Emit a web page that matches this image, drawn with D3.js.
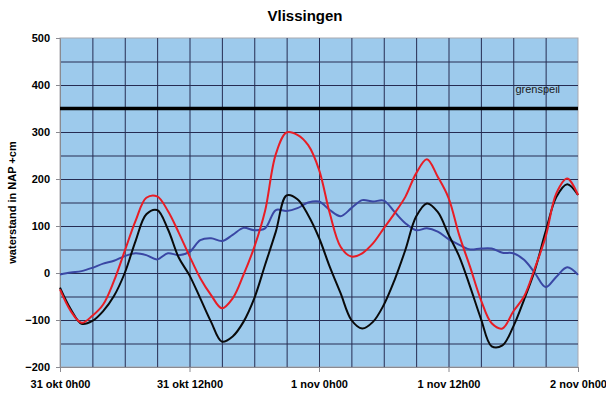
<!DOCTYPE html>
<html>
<head>
<meta charset="utf-8">
<script src="https://cdn.jsdelivr.net/npm/d3@7"></script>
<style>
  body { margin: 0; background: #fff; }
  svg text { font-family: Arial, "Liberation Sans", sans-serif; }
</style>
</head>
<body>
<script>
var w = 606;
var h = 396;

// hours since 31 okt 0h00, one reading per hour
var hours = d3.range(0, 49);

// astronomisch getij (black)
var astro = [-31,-77,-108,-102,-81,-49,0,68,125,134,93,33,-5,-54,-104,-146,-135,-104,-54,17,
             88,165,157,123,75,13,-43,-100,-118,-104,-68,-15,49,120,148,130,82,35,-29,-97,
             -156,-154,-114,-57,6,88,162,189,166];
// gemeten waterstand (red)
var measured = [-35,-81,-106,-91,-67,-17,47,111,160,163,132,86,36,-11,-47,-75,-54,-4,55,132,
                253,299,294,272,220,127,56,35,42,63,95,127,162,212,242,205,160,80,13,-57,
                -107,-118,-82,-50,10,77,170,201,166];
// opzet (blue)
var surge = [-3,1,4,11,20,26,36,42,38,29,42,38,45,70,74,68,81,96,91,95,
             134,132,138,150,152,134,121,138,155,152,154,130,106,91,95,88,72,60,50,52,
             52,43,42,28,0,-30,-8,12,-4];

var grenspeil = 350;
var yTicks = [-200,-100,0,100,200,300,400,500];
var xTicks = [0,12,24,36,48];
var xLabels = ["31 okt 0h00","31 okt 12h00","1 nov 0h00","1 nov 12h00","2 nov 0h00"];

var plotLeft = 60, plotRight = 578, plotTop = 38, plotBottom = 367;

var xScale = d3.scaleLinear().domain([0,48]).range([plotLeft,plotRight]);
var yScale = d3.scaleLinear().domain([-200,500]).range([plotBottom,plotTop]);

var svg = d3.select("body").append("svg")
    .attr("width", w)
    .attr("height", h);

// plot area
svg.append("rect")
    .attr("x", plotLeft).attr("y", plotTop)
    .attr("width", plotRight-plotLeft).attr("height", plotBottom-plotTop)
    .attr("fill", "#9dcaec")
    .attr("stroke", "#a9a9b0");

// grid lines
svg.append("g")
    .attr("transform", "translate(" + plotLeft + ",0)")
    .call(d3.axisLeft(yScale).tickValues(d3.range(-150, 500, 50)).tickSize(-(plotRight-plotLeft)).tickFormat(""))
    .call(function(g){ g.select(".domain").remove(); })
    .selectAll("line").attr("stroke", "#262c52").attr("stroke-width", 1);

svg.append("g")
    .attr("transform", "translate(0," + plotBottom + ")")
    .call(d3.axisBottom(xScale).tickValues(d3.range(3, 48, 3)).tickSize(-(plotBottom-plotTop)).tickFormat(""))
    .call(function(g){ g.select(".domain").remove(); })
    .selectAll("line").attr("stroke", "#262c52").attr("stroke-width", 1);

// axes
var yAxis = svg.append("g")
    .attr("transform", "translate(" + plotLeft + ",0)")
    .call(d3.axisLeft(yScale).tickValues(yTicks).tickSize(4).tickPadding(6));
yAxis.select(".domain").attr("stroke", "#8a8a90");
yAxis.selectAll("line").attr("stroke", "#8a8a90");
yAxis.selectAll("text").attr("font-size", "11px").attr("font-weight", "bold").attr("fill", "#000");

var xAxis = svg.append("g")
    .attr("transform", "translate(0," + plotBottom + ")")
    .call(d3.axisBottom(xScale).tickValues(xTicks).tickSize(5).tickPadding(8)
        .tickFormat(function(d, i){ return xLabels[i]; }));
xAxis.select(".domain").attr("stroke", "#8a8a90");
xAxis.selectAll("line").attr("stroke", "#8a8a90");
xAxis.selectAll("text").attr("font-size", "11px").attr("font-weight", "bold").attr("fill", "#000");

// grenspeil
svg.append("line")
    .attr("x1", plotLeft).attr("x2", plotRight)
    .attr("y1", yScale(grenspeil)).attr("y2", yScale(grenspeil))
    .attr("stroke", "#000").attr("stroke-width", 3.5);
svg.append("text")
    .attr("x", xScale(42.2)).attr("y", yScale(grenspeil) - 16)
    .attr("font-size", "11px").attr("fill", "#1a1a1a")
    .text("grenspeil");

// series
var line = function(vals){
    return d3.line()
        .x(function(d, i){ return xScale(hours[i]); })
        .y(function(d){ return yScale(d); })
        .curve(d3.curveCatmullRom)(vals);
};

svg.append("path").attr("d", line(surge))
    .attr("fill", "none").attr("stroke", "#3a47a4").attr("stroke-width", 2);
svg.append("path").attr("d", line(astro))
    .attr("fill", "none").attr("stroke", "#0a0a0a").attr("stroke-width", 2);
svg.append("path").attr("d", line(measured))
    .attr("fill", "none").attr("stroke", "#e81d25").attr("stroke-width", 2);

// title
svg.append("text")
    .attr("x", 305).attr("y", 21)
    .attr("text-anchor", "middle")
    .attr("font-size", "15px").attr("font-weight", "bold")
    .text("Vlissingen");

// y label
svg.append("text")
    .attr("transform", "translate(16," + ((plotTop+plotBottom)/2) + ") rotate(-90)")
    .attr("text-anchor", "middle")
    .attr("font-size", "11px").attr("font-weight", "bold")
    .text("waterstand in NAP +cm");
</script>
</body>
</html>
